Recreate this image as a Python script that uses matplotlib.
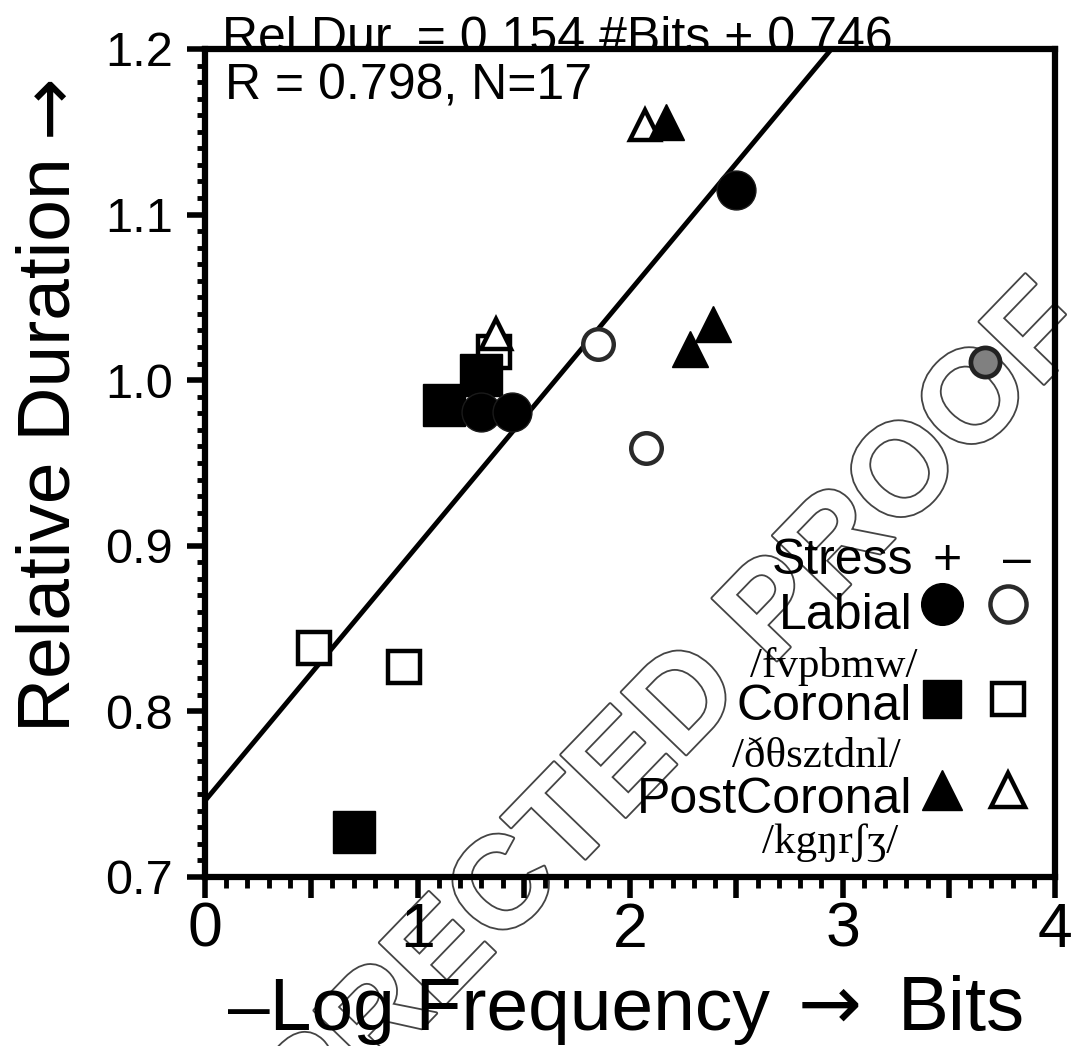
import matplotlib
matplotlib.use('Agg')
import matplotlib.pyplot as plt
import numpy as np
from matplotlib.ticker import MultipleLocator
import matplotlib.patheffects as pe

plt.rcParams.update({
    'font.family': ['Liberation Sans', 'DejaVu Sans'],
    'axes.linewidth': 4.5,
    'xtick.major.width': 4, 'xtick.minor.width': 3.5,
    'ytick.major.width': 4, 'ytick.minor.width': 3.5,
    'xtick.major.size': 15, 'xtick.minor.size': 8,
    'ytick.major.size': 13, 'ytick.minor.size': 5.5,
})

# data: -log frequency (bits) vs relative duration
labial_plus_x = [2.50, 1.30, 1.445]
labial_plus_y = [1.115, 0.981, 0.981]
labial_gray_x = [3.67]
labial_gray_y = [1.011]
labial_minus_x = [1.85, 2.075]
labial_minus_y = [1.022, 0.959]
coronal_plus_x = [1.125, 1.30, 0.70]
coronal_plus_y = [0.985, 1.003, 0.727]
coronal_minus_x = [0.513, 0.936, 1.36]
coronal_minus_y = [0.838, 0.827, 1.017]
post_plus_x = [2.17, 2.28, 2.39]
post_plus_y = [1.156, 1.019, 1.034]
post_minus_x = [1.37, 2.07]
post_minus_y = [1.028, 1.154]

slope, intercept = 0.154, 0.746
fit_text = 'Rel.Dur. = 0.154 #Bits + 0.746'
stat_text = 'R = 0.798, N=17'

fig = plt.figure(figsize=(10.71, 10.46), dpi=100, facecolor='white')
ax = fig.add_axes([0.1914, 0.1616, 0.7937, 0.7916])
ax.patch.set_alpha(0)

# watermark behind the axes
fig.text(0.567, 0.248, 'CORRECTED PROOF', rotation=46, rotation_mode='anchor',
         ha='center', va='center', fontsize=94, fontweight='bold', color='white',
         path_effects=[pe.withStroke(linewidth=2.6, foreground='#444444')], zorder=-1)

# regression line
xs = np.array([0, 4])
ax.plot(xs, slope * xs + intercept, color='black', lw=3.5, zorder=2)

# points
ax.plot(coronal_minus_x, coronal_minus_y, 's', ms=23, mfc='white', mec='black', mew=3.2, zorder=3)
ax.plot(post_minus_x, post_minus_y, '^', ms=22, mfc='white', mec='black', mew=3.2, zorder=3)
ax.plot(coronal_plus_x, coronal_plus_y, 's', ms=30, mfc='black', mec='black', mew=1, zorder=4)
ax.plot(post_plus_x, post_plus_y, '^', ms=26, mfc='black', mec='black', mew=1, zorder=4)
ax.plot(labial_minus_x, labial_minus_y, 'o', ms=22, mfc='white', mec='#2a2a2a', mew=3.2, zorder=4)
ax.plot(labial_plus_x, labial_plus_y, 'o', ms=28, mfc='black', mec='#1a1a1a', mew=1, zorder=5)
ax.plot(labial_gray_x, labial_gray_y, 'o', ms=21, mfc='#808080', mec='#222222', mew=3.4, zorder=5)

ax.set_xlim(0, 4)
ax.set_ylim(0.7, 1.2)
ax.set_xticks(np.arange(0, 4.01, 0.5))
ax.set_xticklabels(['0', '', '1', '', '2', '', '3', '', '4'], fontsize=45)
ax.xaxis.set_minor_locator(MultipleLocator(0.1))
ax.yaxis.set_major_locator(MultipleLocator(0.1))
ax.yaxis.set_minor_locator(MultipleLocator(0.01))
ax.yaxis.set_major_formatter(matplotlib.ticker.FormatStrFormatter('%.1f'))
ax.tick_params(axis='y', which='major', labelsize=35, pad=10)
ax.tick_params(axis='x', which='major', pad=2)

# axis labels (arrow drawn in DejaVu for a wider glyph)
fig.text(70 / 1071, 1 - 732 / 1046, 'Relative Duration', rotation=90,
         rotation_mode='anchor', ha='left', va='baseline', fontsize=54)
fig.text(51 / 1071, 1 - 105 / 1046, '\u2192', rotation=90, ha='center', va='center',
         fontsize=54, family='DejaVu Sans')
fig.text(228 / 1071, 1 - 1030 / 1046, '\u2013Log Frequency', ha='left', va='baseline', fontsize=54)
fig.text(830 / 1071, 1 - 1008 / 1046, '\u2192', ha='center', va='center',
         fontsize=55, family='DejaVu Sans')
fig.text(1025 / 1071, 1 - 1030 / 1046, 'Bits', ha='right', va='baseline', fontsize=55)

# fit annotation
ax.text(0.02, 0.9964, fit_text, transform=ax.transAxes, fontsize=36, va='baseline', zorder=1)
ax.text(0.024, 0.9386, stat_text, transform=ax.transAxes, fontsize=36, va='baseline')

# custom legend
col_plus, col_minus = 0.867, 0.9447
ax.text(0.833, 0.3663, 'Stress', transform=ax.transAxes, fontsize=36, ha='right', va='baseline')
ax.text(0.873, 0.3663, '+', transform=ax.transAxes, fontsize=36, ha='center', va='baseline')
ax.text(0.955, 0.3663, '\u2013', transform=ax.transAxes, fontsize=36, ha='center', va='baseline')

legend_rows = [
    ('Labial', '/fvpbmw/', 'o', 0.300, 0.241, 0.838, 0.330),
    ('Coronal', '/\u00f0\u03b8sztdnl/', 's', 0.189, 0.1325, 0.818, 0.2145),
    ('PostCoronal', '/kg\u014br\u0283\u0292/', '^', 0.0771, 0.0289, 0.815, 0.1048),
]
for name, ipa, mk, yb, yi, xi, ym in legend_rows:
    ax.text(0.832, yb, name, transform=ax.transAxes, fontsize=36, ha='right', va='baseline')
    ax.text(xi, yi, ipa, transform=ax.transAxes, fontsize=31, ha='right', va='baseline',
            family=['Liberation Serif', 'DejaVu Serif'])
    ms = {'o': 30, 's': 27, '^': 29}[mk]
    ax.plot([col_plus], [ym], mk, ms=ms, mfc='black', mec='black', mew=1,
            transform=ax.transAxes, clip_on=False)
    ax.plot([col_minus], [ym], mk, ms=ms - 4, mfc='white',
            mec='#2a2a2a' if mk == 'o' else 'black', mew=3.2,
            transform=ax.transAxes, clip_on=False)

fig.savefig('out.png', dpi=100, facecolor='white')
